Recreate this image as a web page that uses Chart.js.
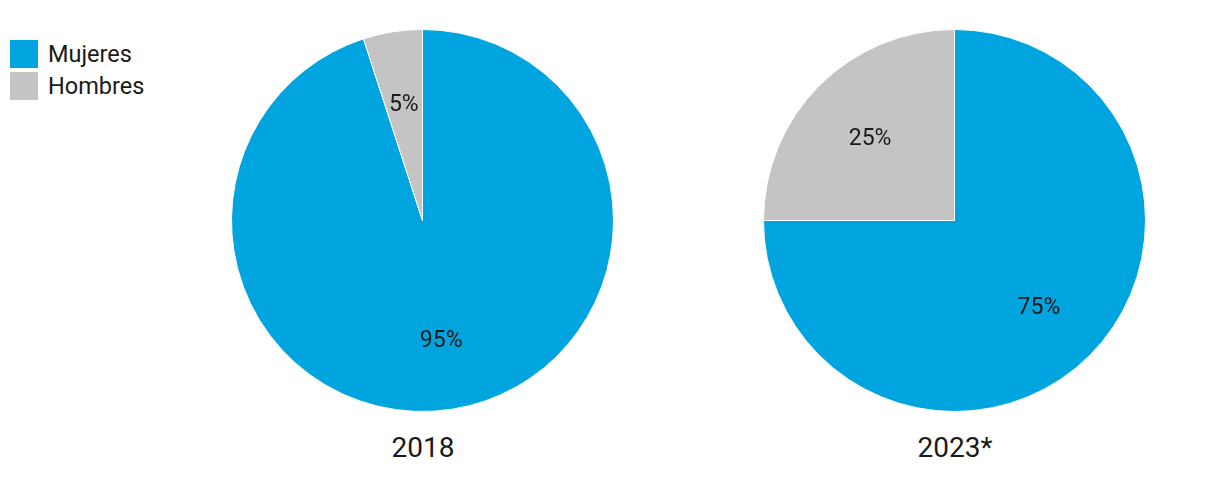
<!DOCTYPE html>
<html>
<head>
<meta charset="utf-8">
<script src="https://cdn.jsdelivr.net/npm/chart.js@4/dist/chart.umd.min.js"></script>
<style>
  body { margin: 0; background: #fff; font-family: Roboto, sans-serif; color: #1a1a1a; }
  #wrap { position: relative; width: 1220px; height: 494px; }
  .pie { position: absolute; top: 29px; width: 383px; height: 383px; }
  .year { position: absolute; top: 430px; width: 200px; text-align: center; font-size: 28px; line-height: 36px; }
  #legend { position: absolute; left: 10px; top: 38px; font-size: 23.5px; }
  #legend div { display: flex; align-items: center; height: 32px; }
  #legend span.sw { display: inline-block; width: 28px; height: 28px; margin-right: 10px; }
</style>
</head>
<body>
<div id="wrap">
  <div id="legend"></div>
  <div class="pie" style="left:231px"><canvas id="pie2018"></canvas></div>
  <div class="pie" style="left:763px"><canvas id="pie2023"></canvas></div>
  <div class="year" style="left:323px">2018</div>
  <div class="year" style="left:855px">2023*</div>
</div>
<script>
const categorias = ["Mujeres", "Hombres"];
const colores = ["#00A4DE", "#C4C4C4"];
const valores2018 = [95, 5];
const valores2023 = [75, 25];

// legend
const legend = document.getElementById("legend");
categorias.forEach((c, i) => {
  const row = document.createElement("div");
  row.innerHTML = `<span class="sw" style="background:${colores[i]}"></span>${c}`;
  legend.appendChild(row);
});

const etiquetas = {
  id: "etiquetas",
  afterDatasetsDraw(chart) {
    const ctx = chart.ctx;
    const meta = chart.getDatasetMeta(0);
    ctx.save();
    ctx.font = "23px Roboto";
    ctx.fillStyle = "#1a1a1a";
    ctx.textAlign = "center";
    ctx.textBaseline = "middle";
    meta.data.forEach((arc, i) => {
      const p = arc.getProps(["x", "y", "startAngle", "endAngle", "outerRadius"], true);
      const mid = (p.startAngle + p.endAngle) / 2;
      const r = p.outerRadius * 0.625;
      ctx.fillText(chart.data.datasets[0].data[i] + "%", p.x + Math.cos(mid) * r, p.y + Math.sin(mid) * r + 3);
    });
    ctx.restore();
  }
};

function crearPie(id, valores) {
  new Chart(document.getElementById(id), {
    type: "pie",
    data: {
      labels: categorias,
      datasets: [{
        data: valores,
        backgroundColor: colores,
        borderColor: "#ffffff",
        borderWidth: 1,
        hoverOffset: 0
      }]
    },
    options: {
      responsive: true,
      maintainAspectRatio: false,
      animation: false,
      layout: { padding: 0 },
      plugins: {
        legend: { display: false },
        tooltip: { enabled: false }
      }
    },
    plugins: [etiquetas]
  });
}

crearPie("pie2018", valores2018);
crearPie("pie2023", valores2023);
</script>
</body>
</html>
